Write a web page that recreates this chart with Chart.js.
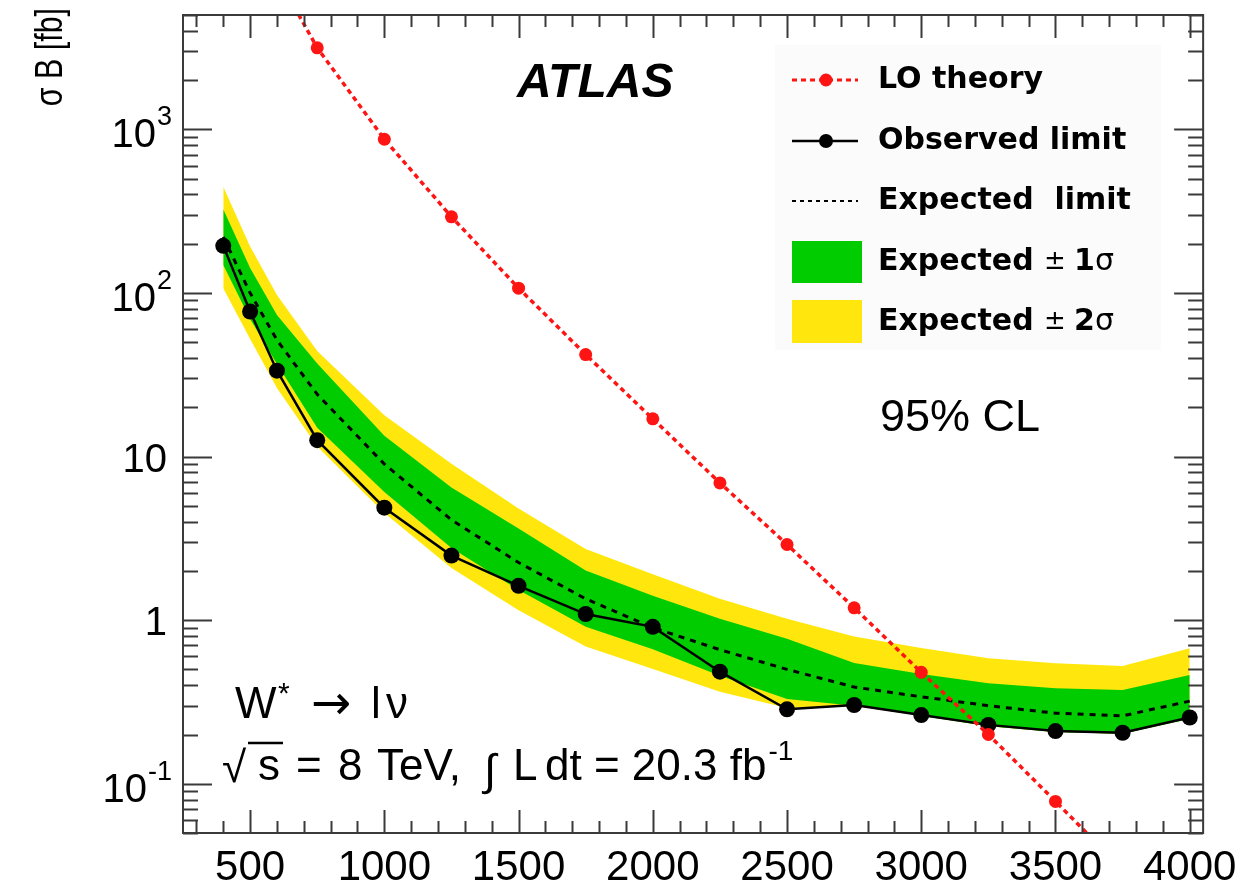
<!DOCTYPE html>
<html>
<head>
<meta charset="utf-8">
<script src="https://cdn.jsdelivr.net/npm/chart.js@4.4.1/dist/chart.umd.min.js"></script>
<style>
  html, body { margin: 0; padding: 0; background: #fff; }
  #grafico { display: block; }
</style>
</head>
<body>
<canvas id="grafico" width="1247" height="887"></canvas>
<script>
// massas W* (GeV)
const massas = [400, 500, 600, 750, 1000, 1250, 1500, 1750, 2000, 2250, 2500, 2750, 3000, 3250, 3500, 3750, 4000];

// limites em sigma*B (fb)
const observado = [194, 77, 33.5, 12.6, 4.87, 2.48, 1.62, 1.09, 0.91, 0.484, 0.285, 0.303, 0.263, 0.229, 0.21, 0.205, 0.254];
const esperado = [220, 100, 51.5, 24, 9.0, 4.1, 2.25, 1.35, 0.9, 0.66, 0.5, 0.39, 0.34, 0.3, 0.27, 0.26, 0.32];
const esperado1Mais = [325, 142, 73.3, 37, 13.4, 6.47, 3.63, 2.01, 1.41, 1.02, 0.771, 0.547, 0.469, 0.412, 0.383, 0.374, 0.462];
const esperado1Menos = [148, 69.3, 36.8, 15, 6.07, 2.76, 1.53, 0.912, 0.664, 0.457, 0.33, 0.3, 0.26, 0.225, 0.207, 0.202, 0.25];
const esperado2Mais = [446, 192, 97.2, 44.2, 17.9, 9.03, 4.81, 2.72, 1.91, 1.35, 1.02, 0.795, 0.675, 0.585, 0.545, 0.524, 0.673];
const esperado2Menos = [107, 52.3, 26.2, 11.5, 4.52, 2.08, 1.15, 0.689, 0.503, 0.365, 0.29, 0.3, 0.26, 0.225, 0.207, 0.202, 0.25];

// teoria LO
const massasLO = [500, 750, 1000, 1250, 1500, 1750, 2000, 2250, 2500, 2750, 3000, 3250, 3500, 3750];
const teoriaLO = [17000, 3150, 870, 292, 107, 42, 17, 6.9, 2.9, 1.19, 0.48, 0.2, 0.078, 0.03];

// eixos
const ticksX = [500, 1000, 1500, 2000, 2500, 3000, 3500, 4000];
const ticksY = [0.1, 1, 10, 100, 1000];
const rotulosY = [["10", "-1"], ["1", ""], ["10", ""], ["10", "2"], ["10", "3"]];

const FONTE = '"Liberation Sans", Arial, Helvetica, sans-serif';
const FONTE_LEG = '"DejaVu Sans", "Liberation Sans", sans-serif';

const pontos = (xs, ys) => xs.map((x, i) => ({ x: x, y: ys[i] }));

// moldura, ticks internos e textos
const moldura = {
    id: "moldura",
    afterDraw(chart) {
        const c = chart.ctx;
        const a = chart.chartArea;
        const sx = chart.scales.x;
        const sy = chart.scales.y;

        c.save();
        c.strokeStyle = "#3a3a3a";
        c.lineWidth = 2;

        // ticks do eixo x (em baixo e em cima)
        for (let v = 300; v <= 4000; v += 100) {
            const px = Math.round(sx.getPixelForValue(v)) + 0.5;
            const len = v % 500 === 0 ? 23 : 12;
            c.beginPath();
            c.moveTo(px, a.bottom); c.lineTo(px, a.bottom - len);
            c.moveTo(px, a.top); c.lineTo(px, a.top + len);
            c.stroke();
        }

        // ticks do eixo y (esquerda e direita)
        for (let e = -2; e <= 3; e++) {
            for (let m = 1; m <= 9; m++) {
                const v = m * Math.pow(10, e);
                if (v < sy.min || v > sy.max) continue;
                const py = Math.round(sy.getPixelForValue(v)) + 0.5;
                const len = m === 1 ? 29 : 15;
                c.beginPath();
                c.moveTo(a.left, py); c.lineTo(a.left + len, py);
                c.moveTo(a.right, py); c.lineTo(a.right - len, py);
                c.stroke();
            }
        }

        c.strokeRect(a.left, a.top, a.right - a.left, a.bottom - a.top);

        // rotulos do eixo y com expoente
        c.fillStyle = "#000";
        c.textBaseline = "alphabetic";
        ticksY.forEach((v, i) => {
            const py = sy.getPixelForValue(v);
            const [base, exp] = rotulosY[i];
            c.font = "40px " + FONTE;
            const wb = c.measureText(base).width;
            c.font = "27px " + FONTE;
            const we = exp ? c.measureText(exp).width : 0;
            const xd = exp ? 172 : 167;
            c.font = "40px " + FONTE;
            c.textAlign = "left";
            c.fillText(base, xd - we - wb - (exp ? 1 : 0), py + 15 + (exp ? 3 : 0));
            if (exp) {
                c.font = "27px " + FONTE;
                c.fillText(exp, xd - we, py - 4);
            }
        });

        // titulo do eixo y
        c.save();
        c.translate(62, 8);
        c.rotate(-Math.PI / 2);
        c.scale(0.8, 1);
        c.textAlign = "right";
        c.font = "38px " + FONTE;
        c.fillText("\u03c3 B [fb]", 0, 0);
        c.restore();

        // ATLAS e 95% CL
        c.textAlign = "left";
        c.font = "bold italic 48px " + FONTE;
        c.fillText("ATLAS", 517, 97);
        c.font = "45px " + FONTE;
        c.fillText("95% CL", 880, 431);

        // W* -> l nu
        c.font = "44px " + FONTE;
        c.fillText("W", 235, 718);
        c.font = "30px " + FONTE;
        c.fillText("*", 278, 703);
        c.font = "48px " + FONTE_LEG;
        c.fillText("\u2192", 311, 719);
        c.font = "44px " + FONTE;
        c.fillText("l", 371, 718);
        c.fillText("\u03bd", 386, 718);

        // sqrt(s) = 8 TeV, int Ldt = 20.3 fb-1
        c.fillText("\u221a", 222, 782);
        c.lineWidth = 2.5;
        c.strokeStyle = "#000";
        c.beginPath(); c.moveTo(248, 743); c.lineTo(283, 743); c.stroke();
        c.fillText("s", 258, 780);
        c.fillText("=", 296, 780);
        c.fillText("8", 338, 780);
        c.fillText("TeV,", 377, 780);
        c.fillText("\u222b", 484, 785);
        c.fillText("L", 513, 780);
        c.fillText("dt = 20.3 fb", 545, 780);
        const wl = c.measureText("dt = 20.3 fb").width;
        c.font = "28px " + FONTE;
        c.fillText("-1", 545 + wl + 2, 760);

        // legenda
        c.fillStyle = "#fbfbfb";
        c.fillRect(775, 45, 386, 305);

        const xl0 = 792, xl1 = 858, xt = 878;
        c.lineWidth = 3;
        c.strokeStyle = "#ff1414";
        c.setLineDash([5, 4]);
        c.beginPath(); c.moveTo(xl0, 80); c.lineTo(xl1, 80); c.stroke();
        c.setLineDash([]);
        c.fillStyle = "#ff1414";
        c.beginPath(); c.arc(826, 80, 6.5, 0, Math.PI * 2); c.fill();

        c.strokeStyle = "#000";
        c.lineWidth = 2.5;
        c.beginPath(); c.moveTo(xl0, 141); c.lineTo(xl1, 141); c.stroke();
        c.fillStyle = "#000";
        c.beginPath(); c.arc(826, 141, 7, 0, Math.PI * 2); c.fill();

        c.lineWidth = 2;
        c.setLineDash([4, 4]);
        c.beginPath(); c.moveTo(xl0, 201); c.lineTo(xl1, 201); c.stroke();
        c.setLineDash([]);

        c.fillStyle = "#00cc00";
        c.fillRect(792, 241, 70, 42);
        c.fillStyle = "#ffe70d";
        c.fillRect(792, 300, 70, 43);

        c.fillStyle = "#000";
        c.textBaseline = "middle";
        c.font = "bold 30px " + FONTE_LEG;
        c.fillText("LO theory", xt, 80);
        c.fillText("Observed limit", xt, 141);
        c.fillText("Expected  limit", xt, 201);

        const sigma = (y, n) => {
            c.font = "bold 30px " + FONTE_LEG;
            let x = xt;
            c.fillText("Expected ", x, y);
            x += c.measureText("Expected ").width;
            c.font = "26px " + FONTE_LEG;
            c.fillText("\u00b1 ", x, y);
            x += c.measureText("\u00b1 ").width;
            c.font = "bold 30px " + FONTE_LEG;
            c.fillText(n, x, y);
            x += c.measureText(n).width;
            c.font = "30px " + FONTE_LEG;
            c.fillText("\u03c3", x, y);
        };
        sigma(262, "1");
        sigma(322, "2");

        c.restore();
    }
};

const ctx = document.getElementById("grafico").getContext("2d");

new Chart(ctx, {
    type: "line",
    data: {
        datasets: [
            {
                label: "LO theory",
                data: pontos(massasLO, teoriaLO),
                borderColor: "#ff1414",
                backgroundColor: "#ff1414",
                borderWidth: 3.5,
                borderDash: [5, 4],
                pointRadius: 6.5,
                pointBorderWidth: 0,
                pointBackgroundColor: "#ff1414",
                clip: 0,
                order: 0
            },
            {
                label: "Observed limit",
                data: pontos(massas, observado),
                borderColor: "#000",
                backgroundColor: "#000",
                borderWidth: 2.5,
                pointRadius: 8,
                pointBorderWidth: 0,
                pointBackgroundColor: "#000",
                clip: 0,
                order: 1
            },
            {
                label: "Expected limit",
                data: pontos(massas, esperado),
                borderColor: "#000",
                borderWidth: 3,
                borderDash: [6, 6],
                pointRadius: 0,
                clip: 0,
                order: 2
            },
            {
                label: "Expected +1s",
                data: pontos(massas, esperado1Mais),
                borderWidth: 0,
                pointRadius: 0,
                backgroundColor: "#00cc00",
                fill: 4,
                clip: 0,
                order: 3
            },
            {
                label: "Expected -1s",
                data: pontos(massas, esperado1Menos),
                borderWidth: 0,
                pointRadius: 0,
                clip: 0,
                order: 3
            },
            {
                label: "Expected +2s",
                data: pontos(massas, esperado2Mais),
                borderWidth: 0,
                pointRadius: 0,
                backgroundColor: "#ffe70d",
                fill: 6,
                clip: 0,
                order: 4
            },
            {
                label: "Expected -2s",
                data: pontos(massas, esperado2Menos),
                borderWidth: 0,
                pointRadius: 0,
                clip: 0,
                order: 4
            }
        ]
    },
    options: {
        responsive: false,
        animation: false,
        events: [],
        layout: { padding: { top: 15, right: 43, left: 0, bottom: 0 } },
        plugins: {
            legend: { display: false },
            tooltip: { enabled: false }
        },
        scales: {
            x: {
                type: "linear",
                min: 250,
                max: 4050,
                afterBuildTicks: s => { s.ticks = ticksX.map(v => ({ value: v })); },
                afterFit: s => { s.height = 54; },
                grid: { display: false, drawTicks: false },
                border: { display: false },
                ticks: {
                    color: "#000",
                    font: { family: FONTE, size: 42 },
                    padding: 10,
                    maxRotation: 0,
                    autoSkip: false,
                    callback: v => String(v)
                }
            },
            y: {
                type: "logarithmic",
                min: 0.05,
                max: 5000,
                afterBuildTicks: s => { s.ticks = ticksY.map(v => ({ value: v })); },
                afterFit: s => { s.width = 183; },
                grid: { display: false, drawTicks: false },
                border: { display: false },
                ticks: { display: false }
            }
        }
    },
    plugins: [moldura]
});
</script>
</body>
</html>
